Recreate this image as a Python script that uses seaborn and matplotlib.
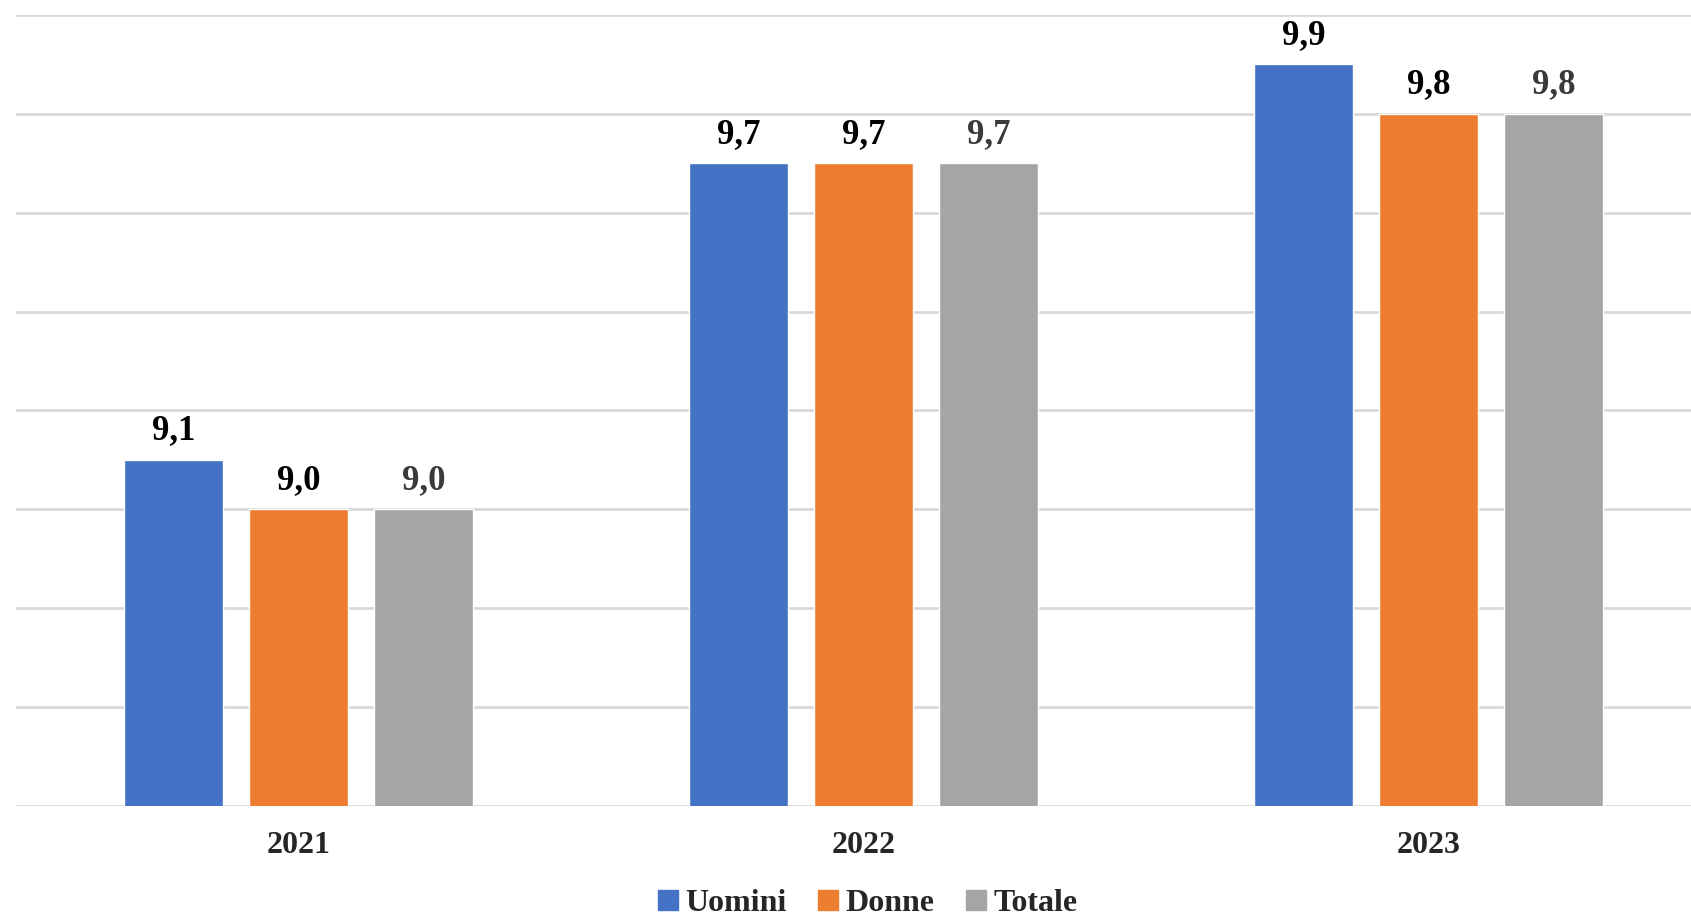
import matplotlib
matplotlib.use("Agg")
import matplotlib.pyplot as plt
import seaborn as sns
import pandas as pd
from matplotlib.lines import Line2D

anni = ["2021", "2022", "2023"]
serie = ["Uomini", "Donne", "Totale"]
uomini = [9.1, 9.7, 9.9]
donne = [9.0, 9.7, 9.8]
totale = [9.0, 9.7, 9.8]

colori = ["#4472C4", "#ED7D31", "#A5A5A5"]
colori_etichette = ["#000000", "#000000", "#3A3A3A"]

df = pd.DataFrame({
    "Anno": anni * 3,
    "Serie": [s for s in serie for _ in anni],
    "Valore": uomini + donne + totale,
})

sns.set_theme(style="white")
plt.rcParams["font.family"] = ["Liberation Serif", "DejaVu Serif"]

fig = plt.figure(figsize=(16.91, 9.22), dpi=100)
ax = fig.add_axes([16/1691, 116/922, 1695/1691, 791/922])

sns.barplot(data=df, x="Anno", y="Valore", hue="Serie", order=anni, hue_order=serie,
            palette=colori, width=0.664, gap=0.21, ax=ax, legend=False, saturation=1)

for cont, col in zip(ax.containers, colori_etichette):
    ax.bar_label(cont, labels=[f"{b.get_height():.1f}".replace(".", ",") for b in cont],
                 padding=9, fontsize=25, fontweight="bold", color=col)

ax.set_ylim(8.4, 10.0)
ax.set_xlim(-0.5, 2.5)
ax.set_yticks([8.4 + 0.2 * i for i in range(9)])
ax.set_yticklabels([])
ax.yaxis.grid(True, color="#D9D9D9", linewidth=2)
ax.set_axisbelow(True)
for s in ax.spines.values():
    s.set_visible(False)
ax.tick_params(axis="both", length=0)
ax.tick_params(axis="x", pad=18, labelsize=23)
for t in ax.get_xticklabels():
    t.set_fontweight("bold")
ax.set_xlabel("")
ax.set_ylabel("")

handles = [Line2D([], [], marker="s", linestyle="", markersize=14, color=c) for c in colori]
fig.legend(handles, serie, loc="center", bbox_to_anchor=(865/1691, 1 - 903/922), ncol=3,
           frameon=False, prop={"size": 23, "weight": "bold"}, handletextpad=0.05,
           columnspacing=0.8, handlelength=1.0, borderpad=0.2)

fig.savefig("out.png", dpi=100)
